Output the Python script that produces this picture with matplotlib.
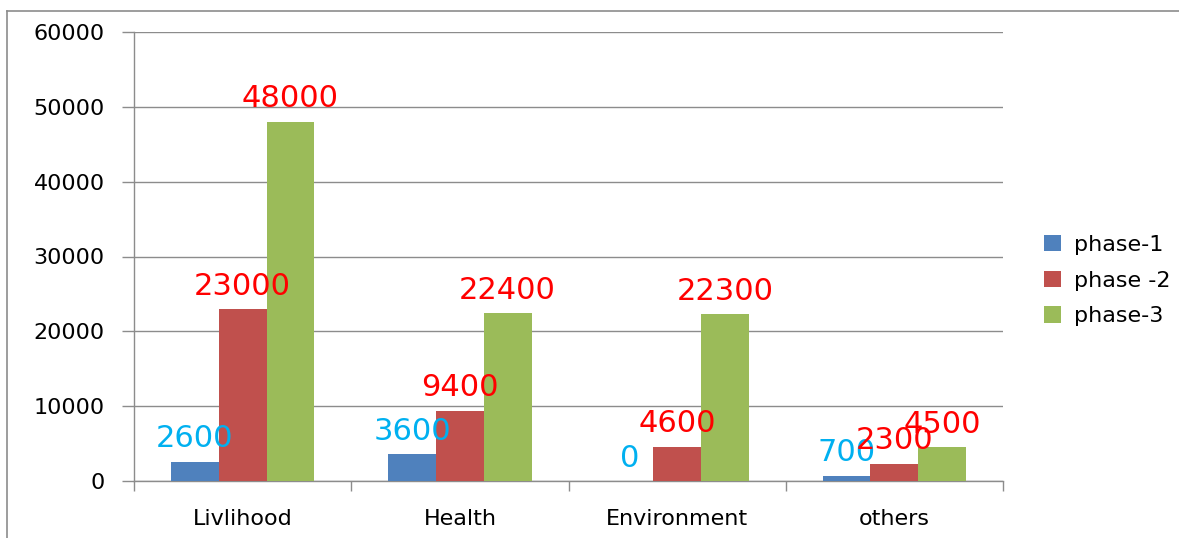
import matplotlib
matplotlib.use("Agg")
import matplotlib.pyplot as plt
import numpy as np
from matplotlib.lines import Line2D

categories = ["Livlihood", "Health", "Environment", "others"]
series_names = ["phase-1", "phase -2", "phase-3"]
phase1 = [2600, 3600, 0, 700]
phase2 = [23000, 9400, 4600, 2300]
phase3 = [48000, 22400, 22300, 4500]
yticks = [0, 10000, 20000, 30000, 40000, 50000, 60000]

bar_colors = ["#4F81BD", "#C0504D", "#9BBB59"]
label_colors = ["#00B0F0", "#FF0000", "#FF0000"]

W, H = 1179, 538
fig = plt.figure(figsize=(W / 100, H / 100), dpi=100)
ax = fig.add_axes([134 / W, 1 - 481 / H, (1003 - 134) / W, (481 - 32) / H])

x = np.arange(len(categories))
bw = 0.22
series = [phase1, phase2, phase3]
for i, (vals, name) in enumerate(zip(series, series_names)):
    pos = x + (i - 1) * bw
    ax.bar(pos, vals, width=bw, color=bar_colors[i], label=name, zorder=3)
    for p, v in zip(pos, vals):
        ax.annotate(f"{v}", (p, v), xytext=(0, 6), textcoords="offset points",
                    ha="center", va="bottom", fontsize=22, color=label_colors[i],
                    zorder=4)

ax.set_xlim(-0.5, len(categories) - 0.5)
ax.set_ylim(0, 60000)
ax.set_yticks(yticks)
ax.set_yticklabels([str(t) for t in yticks], fontsize=16)
ax.yaxis.grid(True, color="#8c8c8c", linewidth=1, zorder=0)
ax.set_axisbelow(True)

ax.set_xticks(x)
ax.set_xticklabels(categories, fontsize=16)
ax.tick_params(axis="x", length=0, pad=20)
ax.set_xticks(np.arange(-0.5, len(categories)), minor=True)
ax.tick_params(axis="x", which="minor", length=7, color="#8c8c8c", width=1)
ax.tick_params(axis="y", length=9, color="#8c8c8c", width=1, pad=12)

for s in ["top", "right"]:
    ax.spines[s].set_visible(False)
for s in ["left", "bottom"]:
    ax.spines[s].set_color("#8c8c8c")
    ax.spines[s].set_linewidth(1)

fig.legend(loc="upper left", bbox_to_anchor=(1024 / W, 1 - 215 / H),
           frameon=False, fontsize=16, handlelength=0.75, handleheight=0.75,
           handletextpad=0.6, labelspacing=0.7)

# outer chart frame (top and left edges visible)
fig.add_artist(Line2D([7 / W, 1.0], [1 - 11 / H, 1 - 11 / H], color="#8c8c8c", lw=1.2))
fig.add_artist(Line2D([7 / W, 7 / W], [1 - 11 / H, 0], color="#8c8c8c", lw=1.2))

fig.savefig("out.png", dpi=100)
